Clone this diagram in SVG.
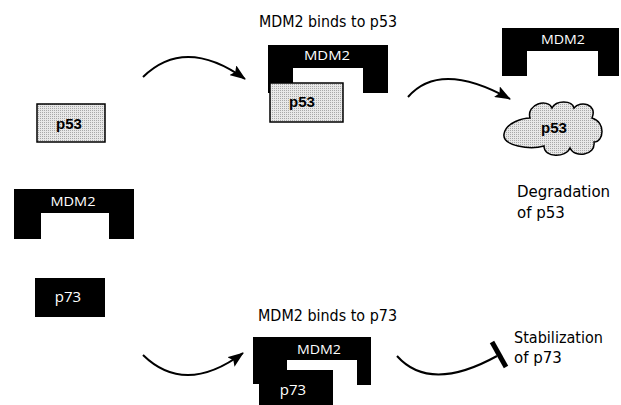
<svg xmlns="http://www.w3.org/2000/svg" width="621" height="405" viewBox="0 0 621 405">
  <style>
    .black { fill: #000; }
    .stip { fill: url(#stipple); stroke: #000; stroke-width: 1.5; }
    .wlabel { font-family: "Open Sans", "DejaVu Sans", sans-serif; font-size: 12px; fill: #fff; text-anchor: middle; }
    .blabel { font-family: "Liberation Sans", Arial, sans-serif; font-size: 15px; font-weight: bold; fill: #000; text-anchor: middle; }
    .note { font-family: "DejaVu Sans", "Liberation Sans", sans-serif; font-size: 15px; fill: #000; }
    .arc { fill: none; stroke: #000; stroke-width: 2; }
  </style>
  <defs>
    <pattern id="stipple" width="2" height="2" patternUnits="userSpaceOnUse">
      <rect width="2" height="2" fill="#e8e8e8"/>
      <rect width="1" height="1" fill="#a8a8a8"/>
    </pattern>
    <marker id="head" markerWidth="16" markerHeight="12" refX="15" refY="6" orient="auto" markerUnits="userSpaceOnUse">
      <path d="M0,0 L16,6 L0,12 L3,6 Z" fill="#000"/>
    </marker>
  </defs>
  <rect width="621" height="405" fill="#fff"/>

  <!-- free p53 -->
  <g id="p53-free">
    <rect class="stip" x="37" y="104" width="68" height="38"/>
    <text class="blabel" x="69" y="129">p53</text>
  </g>

  <!-- free MDM2 clamp -->
  <g id="mdm2-free">
    <path class="black" d="M14,189 H134 V239 H109 V213 H41 V239 H14 Z"/>
    <text class="wlabel" x="73" y="206" textLength="45" lengthAdjust="spacingAndGlyphs">MDM2</text>
  </g>

  <!-- free p73 -->
  <g id="p73-free">
    <rect class="black" x="35" y="278" width="70" height="39"/>
    <text class="wlabel" x="68" y="302" style="font-size:15px">p73</text>
  </g>

  <!-- MDM2 bound to p53 -->
  <g id="complex-p53">
    <text class="note" x="259" y="27" textLength="138" lengthAdjust="spacingAndGlyphs">MDM2 binds to p53</text>
    <path class="black" d="M268,45 H388 V93 H363 V68 H293 V93 H268 Z"/>
    <text class="wlabel" x="327" y="60" textLength="46" lengthAdjust="spacingAndGlyphs">MDM2</text>
    <rect class="stip" x="270" y="83" width="73" height="39"/>
    <text class="blabel" x="302" y="107">p53</text>
  </g>

  <!-- MDM2 released, p53 degraded -->
  <g id="mdm2-released">
    <path class="black" d="M502,28 H619 V76 H598 V51 H527 V76 H502 Z"/>
    <text class="wlabel" x="563" y="44" textLength="44" lengthAdjust="spacingAndGlyphs">MDM2</text>
  </g>
  <g id="p53-degraded">
    <path class="stip" d="M530,118 C526,104 548,98 552,108 C556,100 572,100 574,108 C580,100 598,104 592,118 C606,122 604,142 594,142 C596,156 574,158 570,148 C566,158 544,158 544,146 C530,150 502,146 504,134 C506,122 524,118 530,118 Z"/>
    <text class="blabel" x="554" y="133">p53</text>
  </g>
  <g id="degradation-label">
    <text class="note" x="517" y="197">Degradation</text>
    <text class="note" x="517" y="218">of p53</text>
  </g>

  <!-- MDM2 bound to p73 -->
  <g id="complex-p73">
    <text class="note" x="258" y="321" textLength="139" lengthAdjust="spacingAndGlyphs">MDM2 binds to p73</text>
    <path class="black" d="M253,337 H371 V385 H357 V360 H287 V384 H253 Z"/>
    <text class="wlabel" x="319" y="354" textLength="44" lengthAdjust="spacingAndGlyphs">MDM2</text>
    <rect class="black" x="259" y="370" width="74" height="35"/>
    <text class="wlabel" x="293" y="395" style="font-size:15px">p73</text>
  </g>

  <g id="stabilization-label">
    <text class="note" x="514" y="343" textLength="89" lengthAdjust="spacingAndGlyphs">Stabilization</text>
    <text class="note" x="514" y="363">of p73</text>
  </g>

  <!-- connectors -->
  <g id="connectors">
    <path class="arc" d="M143,77 Q185,36 245,79" marker-end="url(#head)"/>
    <path class="arc" d="M408,97 Q440,60 510,99" marker-end="url(#head)"/>
    <path class="arc" d="M143,355 Q185,396 243,353" marker-end="url(#head)"/>
    <path class="arc" d="M397,356 Q430,393 497,356"/>
    <line x1="492" y1="342" x2="506" y2="367" stroke="#000" stroke-width="5"/>
  </g>
</svg>
